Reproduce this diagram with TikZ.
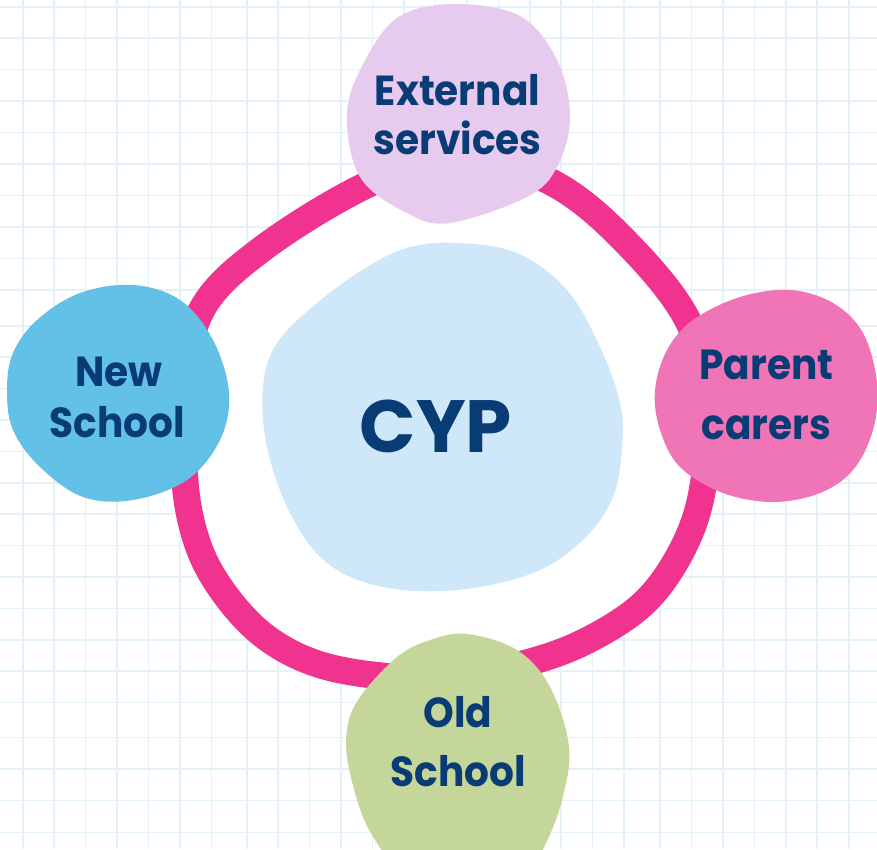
\documentclass[tikz,border=0pt]{standalone}
\usepackage{fontspec}
\setmainfont{Poppins}
\newfontfamily\lblfont{Poppins}[FakeStretch=0.93]
\definecolor{gridc}{RGB}{226,242,248}
\definecolor{ringc}{RGB}{240,51,142}
\definecolor{extc}{RGB}{230,203,239}
\definecolor{parc}{RGB}{240,117,182}
\definecolor{oldc}{RGB}{197,214,154}
\definecolor{newc}{RGB}{99,192,231}
\definecolor{cypc}{RGB}{206,232,249}
\definecolor{txtc}{RGB}{9,59,116}
\begin{document}
\begin{tikzpicture}[x=1pt,y=-1pt,
  gridline/.style={draw=gridc,line width=1.6pt},
  ringline/.style={draw=ringc,line width=27pt},
  lbl/.style={text=txtc,font=\lblfont\bfseries\fontsize{42}{50}\selectfont,anchor=base,inner sep=0pt},
  big/.style={text=txtc,font=\bfseries\fontsize{74}{80}\selectfont,anchor=base,inner sep=0pt}]
\useasboundingbox (0,0) rectangle (877,849);
\fill[white] (0,0) rectangle (877,849);
\clip (0,0) rectangle (877,849);
% grid
\foreach \k in {0,...,6} {\draw[gridline] ({22.7+31.45*\k},0) -- ({22.7+31.45*\k},849);}
\foreach \k in {0,...,12} {\draw[gridline] ({246.7+31.45*\k},0) -- ({246.7+31.45*\k},849);}
\foreach \k in {0,...,6} {\draw[gridline] ({660+31.45*\k},0) -- ({660+31.45*\k},849);}
\foreach \k in {0,...,9} {\draw[gridline] (0,{6.7+31.45*\k}) -- (877,{6.7+31.45*\k});}
\foreach \k in {0,...,12} {\draw[gridline] (0,{325.7+31.4*\k}) -- (877,{325.7+31.4*\k});}
\foreach \k in {0,...,3} {\draw[gridline] (0,{737.3+31.67*\k}) -- (877,{737.3+31.67*\k});}
% ring interior and ring
\def\ringpath{plot[smooth cycle,tension=0.6] coordinates {(460,160) (547,180) (622,238) (690,325) (706,420) (702,492) (682,550) (645,602) (590,639) (530,662) (450,678) (373,675) (312,662) (263,635) (224,593) (198,545) (185,482) (186,400) (200,313) (262,249) (373,182)}}
\fill[white] \ringpath;
\draw[ringline] \ringpath;
% CYP blob
\fill[cypc] plot[smooth cycle,tension=0.6] coordinates {(457,243) (517,253) (567,290) (600,347) (620,403) (622,447) (613,497) (583,540) (533,573) (457,590) (383,587) (327,563) (290,513) (267,447) (263,387) (277,343) (317,303) (367,267) (410,247)};
% External services blob
\fill[extc] plot[smooth cycle,tension=0.6] coordinates {(455,4) (520,16) (557,60) (570,117) (557,167) (527,197) (450,223) (407,213) (360,177) (347,112) (367,57) (400,16)};
% Parent carers blob
\fill[parc] plot[smooth cycle,tension=0.6] coordinates {(655,390) (667,350) (693,320) (740,297) (790,290) (833,303) (863,333) (877,383) (873,430) (853,470) (820,493) (773,502) (723,493) (680,467) (660,430)};
% New School blob
\fill[newc] plot[smooth cycle,tension=0.6] coordinates {(7,390) (13,353) (37,320) (80,293) (133,285) (180,300) (213,340) (229,393) (220,440) (187,480) (133,500) (83,497) (40,467) (13,430)};
% Old School blob
\fill[oldc] plot[smooth cycle,tension=0.6] coordinates {(467,634) (517,650) (550,687) (569,747) (562,800) (545,845) (520,885) (420,885) (372,835) (350,773) (347,730) (360,697) (397,657) (430,640)};
% labels
\node[lbl] (ext1) at (457.5,105) {External};
\node[lbl] (ext2) at (457.5,154) {services};
\node[lbl] (par1) at (766.5,379.3) {Parent};
\node[lbl] (par2) at (766.5,439.3) {carers};
\node[lbl] (new1) at (119,386.7) {New};
\node[lbl] (new2) at (117.5,437.3) {School};
\node[lbl] (old1) at (458,727) {Old};
\node[lbl] (old2) at (458.5,786.7) {School};
\node[big] (cyp) at (436,452.7) {CYP};
\end{tikzpicture}
\end{document}
